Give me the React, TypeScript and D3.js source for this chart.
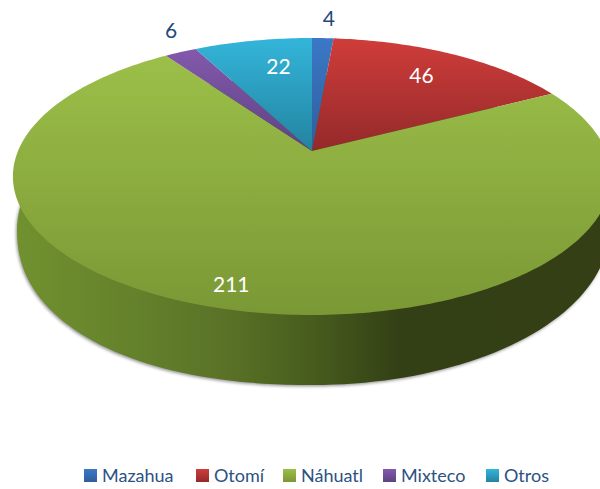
import React from "react";
import * as d3 from "d3";

const categories = ["Mazahua", "Otomí", "Náhuatl", "Mixteco", "Otros"];
const values = [4, 46, 211, 6, 22];
const topColors = ["#3b78c6", "#cf3d3a", "#9cbf49", "#8359ab", "#33b5da"];
const bottomColors = ["#2e5e9c", "#94292a", "#7a9835", "#5e4284", "#2383a0"];
const labelColors = ["#1f497d", "#ffffff", "#ffffff", "#1f497d", "#ffffff"];

// layout of the label relative to the projected mid-angle of its slice
const labelRadius = [1.22, 0.773, 0.86, 1.27, 0.741];
const labelNudge = [4, -3, -10, 20, 12];
const legendX = [84, 196, 283, 383, 486];

const W = 600, H = 489;
const cx = 312, R = 294;
// projective tilt of the pie's circle: front is nearer than back
const persp = { a: -106, b: 151, c: 0.184 };
const project = (angle: number, k = 1): [number, number] => {
  const u = k * Math.sin(angle), v = k * Math.cos(angle);
  const d = persp.c * v + 1;
  return [cx + (R * u) / d, (persp.a * v + persp.b) / d];
};

const pie = d3.pie<number>().sort(null)(values);
const line = d3.line<[number, number]>();

const slicePath = (start: number, end: number) => {
  const n = Math.max(4, Math.ceil((end - start) * 60));
  const rim = d3.range(n + 1).map((i) => project(start + ((end - start) * i) / n));
  return line([project(0, 0), ...rim])! + "Z";
};

const wallScaleX = d3.scaleLinear().domain([-1, 1]).range([cx + 1 - 296, cx + 1 + 296]);
const wallScaleY = d3.scaleLinear().domain([-1, 1]).range([230 - 155, 230 + 155]);
const wallPath =
  line(
    d3.range(0, 361, 2).map((deg) => {
      const t = (deg * Math.PI) / 180;
      const s = Math.sin(t), c = Math.cos(t);
      // the near-left part of the wall bulges a little in the perspective
      const e = s < 0 && c > 0 ? 2 / 2.2 : 1;
      return [
        wallScaleX(Math.sign(s) * Math.abs(s) ** e),
        wallScaleY(Math.sign(c) * Math.abs(c) ** e),
      ] as [number, number];
    })
  )! + "Z";

const wallStops: [number, string][] = [
  [0, "#71912f"],
  [0.2, "#64812b"],
  [0.35, "#5a7227"],
  [0.5, "#475c1d"],
  [0.65, "#333f15"],
  [1, "#343f15"],
];

export default function App() {
  return (
    <svg
      width={W}
      height={H}
      viewBox={`0 0 ${W} ${H}`}
      style={{ position: "absolute", left: 0, top: 0, display: "block" }}
      fontFamily="Lato, 'Open Sans', sans-serif"
    >
      <defs>
        <filter id="soft" x="-5%" y="-5%" width="110%" height="110%">
          <feGaussianBlur stdDeviation="1.6" />
        </filter>
        <linearGradient id="wall" x1="0" x2="1" y1="0" y2="0">
          {wallStops.map(([o, c]) => (
            <stop key={o} offset={o} stopColor={c} />
          ))}
        </linearGradient>
        {categories.map((_, i) => (
          <linearGradient key={i} id={`g${i}`} x1="0" x2="0" y1="0" y2="1">
            <stop offset="0" stopColor={topColors[i]} />
            <stop offset="1" stopColor={bottomColors[i]} />
          </linearGradient>
        ))}
      </defs>

      <path d={wallPath} fill="#7a7a7a" opacity={0.75} filter="url(#soft)" transform="translate(-1,1.5)" />
      <path d={wallPath} fill="url(#wall)" />

      {pie.map((s, i) => (
        <path key={i} d={slicePath(s.startAngle, s.endAngle)} fill={`url(#g${i})`} />
      ))}

      {pie.map((s, i) => {
        const [x, y] = project((s.startAngle + s.endAngle) / 2, labelRadius[i]);
        return (
          <text
            key={i}
            x={x + labelNudge[i]}
            y={y}
            fontSize={21}
            textAnchor="middle"
            dominantBaseline="central"
            fill={labelColors[i]}
          >
            {values[i]}
          </text>
        );
      })}

      {categories.map((c, i) => (
        <g key={c} transform={`translate(${legendX[i]},469)`}>
          <rect width={13} height={13} fill={`url(#g${i})`} />
          <text x={18} y={13} fontSize={18} fill="#2c5282" letterSpacing={0}>
            {c}
          </text>
        </g>
      ))}
    </svg>
  );
}
